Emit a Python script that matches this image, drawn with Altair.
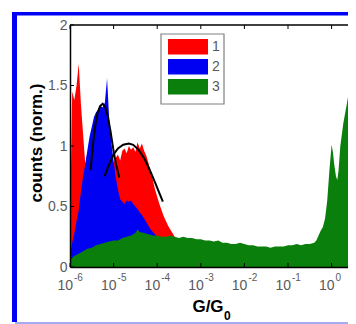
import altair as alt
import pandas as pd

# ---------------- data (x = log10(G/G0)) ----------------
x1 = [-6.00, -5.95, -5.90, -5.85, -5.80, -5.75, -5.70, -5.65, -5.60, -5.55,
      -5.50, -5.45, -5.40, -5.35, -5.30, -5.25, -5.20, -5.15, -5.10, -5.05,
      -5.00, -4.95, -4.90, -4.85, -4.80, -4.75, -4.70, -4.65, -4.60, -4.55,
      -4.50, -4.45, -4.40, -4.35, -4.30, -4.25, -4.20, -4.15, -4.10, -4.05,
      -4.00, -3.95, -3.90, -3.85, -3.80, -3.75, -3.70, -3.65, -3.60, -3.55,
      -3.50, -3.45]
y1 = [0.30, 1.45, 1.38, 1.50, 1.68, 1.35, 1.10, 0.85, 0.95, 0.80,
      1.00, 0.92, 0.90, 0.95, 0.90, 0.85, 0.80, 0.78, 0.80, 0.82,
      0.86, 0.90, 0.93, 0.88, 0.96, 0.98, 0.94, 1.00, 0.97, 0.99,
      0.95, 1.03, 0.98, 1.02, 0.96, 0.92, 0.86, 0.78, 0.72, 0.64,
      0.58, 0.52, 0.47, 0.42, 0.38, 0.34, 0.31, 0.28, 0.25, 0.22,
      0.20, 0.0]

x2 = [-6.00, -5.95, -5.90, -5.85, -5.80, -5.75, -5.70, -5.65, -5.60, -5.55,
      -5.50, -5.45, -5.40, -5.35, -5.30, -5.25, -5.20, -5.15, -5.10, -5.05,
      -5.00, -4.95, -4.90, -4.85, -4.80, -4.75, -4.70, -4.65, -4.60, -4.55,
      -4.50, -4.45, -4.40, -4.35, -4.30, -4.25, -4.20, -4.15, -4.10, -4.05,
      -4.00, -3.95, -3.90]
y2 = [0.10, 0.20, 0.28, 0.38, 0.47, 0.62, 0.75, 0.85, 0.97, 1.08,
      1.16, 1.24, 1.28, 1.30, 1.33, 1.32, 1.36, 1.56, 1.22, 1.02,
      0.88, 0.74, 0.64, 0.56, 0.54, 0.52, 0.55, 0.54, 0.55, 0.52,
      0.50, 0.48, 0.45, 0.43, 0.40, 0.37, 0.34, 0.31, 0.29, 0.27,
      0.25, 0.23, 0.0]

x3 = [-6.0, -5.9, -5.8, -5.7, -5.6, -5.5, -5.4, -5.3, -5.2, -5.1,
      -5.0, -4.9, -4.8, -4.7, -4.6, -4.5, -4.45, -4.4, -4.3, -4.2,
      -4.1, -4.0, -3.9, -3.8, -3.7, -3.6, -3.5, -3.4, -3.3, -3.2,
      -3.1, -3.0, -2.9, -2.8, -2.7, -2.6, -2.5, -2.4, -2.3, -2.2,
      -2.1, -2.0, -1.9, -1.8, -1.7, -1.6, -1.5, -1.4, -1.3, -1.2,
      -1.1, -1.0, -0.9, -0.8, -0.7, -0.6, -0.5, -0.4, -0.35, -0.3,
      -0.25, -0.2, -0.15, -0.1, -0.05, 0.0, 0.03, 0.06, 0.1, 0.13,
      0.16, 0.2, 0.27, 0.35, 0.43, 0.5, 0.575]
y3 = [0.06, 0.09, 0.11, 0.13, 0.15, 0.16, 0.18, 0.19, 0.20, 0.21,
      0.22, 0.22, 0.24, 0.25, 0.26, 0.28, 0.31, 0.29, 0.28, 0.27,
      0.26, 0.26, 0.25, 0.25, 0.26, 0.25, 0.24, 0.25, 0.24, 0.24,
      0.23, 0.23, 0.22, 0.22, 0.21, 0.22, 0.20, 0.20, 0.19, 0.19,
      0.20, 0.19, 0.18, 0.18, 0.17, 0.17, 0.17, 0.16, 0.17, 0.17,
      0.17, 0.18, 0.18, 0.19, 0.18, 0.19, 0.19, 0.20, 0.22, 0.26,
      0.30, 0.33, 0.40, 0.55, 0.80, 1.01, 0.95, 0.85, 0.75, 0.72,
      0.80, 1.00, 1.19, 1.35, 1.52, 1.70, 1.90]

fit1_x = [-5.53, -5.47, -5.42, -5.37, -5.31, -5.25, -5.19, -5.13, -5.07, -5.01, -4.95, -4.87]
fit1_y = [0.80, 1.02, 1.17, 1.27, 1.33, 1.35, 1.32, 1.24, 1.12, 0.98, 0.86, 0.74]
fit2_x = [-5.21, -5.10, -5.00, -4.90, -4.78, -4.65, -4.55, -4.43, -4.30, -4.18, -4.05, -3.95, -3.87]
fit2_y = [0.75, 0.85, 0.93, 0.98, 1.01, 1.02, 1.01, 0.97, 0.90, 0.81, 0.70, 0.61, 0.54]

tick_exponents = [-6, -5, -4, -3, -2, -1, 0]
y_ticks = [0, 0.5, 1, 1.5, 2]
categories = ["1", "2", "3"]
colors = ["#ff0000", "#0000f2", "#0b7f0b"]

# ---------------- layout ----------------
W, H = 278, 242
X_MAX = -6 + W / 43.6
FONT = "Liberation Sans"
GRAY = "#5a5a5a"

xs = alt.Scale(domain=[-6, X_MAX], nice=False, zero=False)
ys = alt.Scale(domain=[0, 2], nice=False, zero=False)
x_axis = alt.Axis(labels=False, ticks=False, grid=False, title=None, domain=True,
                  domainColor="black", domainWidth=1.5, zindex=1)
y_axis = alt.Axis(values=y_ticks, format="~g", ticks=False, grid=False, title=None,
                  domain=True, domainColor="black", domainWidth=1.5, labelFont=FONT,
                  labelFontSize=14, labelColor=GRAY, labelPadding=3, zindex=1)
X = lambda f="x": alt.X(f"{f}:Q", scale=xs, axis=x_axis)
Y = lambda f="y": alt.Y(f"{f}:Q", scale=ys, axis=y_axis)

one = pd.DataFrame({"a": [0]})

def area(xv, yv, color):
    return alt.Chart(pd.DataFrame({"x": xv, "y": yv})).mark_area(
        color=color, opacity=1, clip=True, interpolate="linear").encode(x=X(), y=Y())

def line(xv, yv):
    return alt.Chart(pd.DataFrame({"x": xv, "y": yv})).mark_line(
        color="black", strokeWidth=2, clip=True).encode(x=X(), y=Y())

layers = [
    area(x1, y1, colors[0]),
    area(x2, y2, colors[1]),
    area(x3, y3, colors[2]),
    line(fit1_x, fit1_y),
    line(fit2_x, fit2_y),
]

# top box line
layers.append(alt.Chart(one).mark_rule(color="black", strokeWidth=1.5).encode(
    x=alt.value(0), x2=alt.value(W), y=alt.value(0)))

tick_df = pd.DataFrame({"x": tick_exponents, "e": [str(e) for e in tick_exponents]})
# inward ticks bottom / top
layers.append(alt.Chart(tick_df).mark_rule(color="black", strokeWidth=1).encode(
    x=X(), y=alt.value(H), y2=alt.value(H - 4)))
layers.append(alt.Chart(tick_df).mark_rule(color="black", strokeWidth=1).encode(
    x=X(), y=alt.value(0), y2=alt.value(4)))
# inward y ticks
layers.append(alt.Chart(pd.DataFrame({"y": y_ticks})).mark_rule(color="black", strokeWidth=1).encode(
    y=Y(), x=alt.value(0), x2=alt.value(4)))

# x tick labels: "10" with superscript exponent
layers.append(alt.Chart(tick_df).mark_text(
    align="right", baseline="alphabetic", dx=3, font=FONT, fontSize=14, color=GRAY).encode(
    x=X(), y=alt.value(265), text=alt.value("10")))
layers.append(alt.Chart(tick_df).mark_text(
    align="left", baseline="alphabetic", dx=4, font=FONT, fontSize=10, color=GRAY).encode(
    x=X(), y=alt.value(256), text="e:N"))

# axis titles
layers.append(alt.Chart(one).mark_text(
    angle=270, align="center", baseline="middle", font=FONT, fontSize=17,
    fontWeight="bold", color="black").encode(
    x=alt.value(-33), y=alt.value(118), text=alt.value("counts (norm.)")))
layers.append(alt.Chart(one).mark_text(
    align="center", baseline="alphabetic", font=FONT, fontSize=17,
    fontWeight="bold", color="black").encode(
    x=alt.value(138), y=alt.value(287), text=alt.value("G/G")))
layers.append(alt.Chart(one).mark_text(
    align="left", baseline="alphabetic", font=FONT, fontSize=12,
    fontWeight="bold", color="black").encode(
    x=alt.value(154), y=alt.value(295), text=alt.value("0")))

# legend
layers.append(alt.Chart(one).mark_rect(fill="white", stroke="#808080", strokeWidth=1.2).encode(
    x=alt.value(91), x2=alt.value(154), y=alt.value(9), y2=alt.value(79)))
for i, (cat, col) in enumerate(zip(categories, colors)):
    top = 14 + 20 * i
    layers.append(alt.Chart(one).mark_rect(fill=col).encode(
        x=alt.value(98), x2=alt.value(138), y=alt.value(top), y2=alt.value(top + 15.5)))
    layers.append(alt.Chart(one).mark_text(
        align="left", baseline="middle", font=FONT, fontSize=14, color=GRAY).encode(
        x=alt.value(142), y=alt.value(top + 8), text=alt.value(cat)))

# blue frame around the figure
layers.append(alt.Chart(one).mark_rect(fill="#0000f5").encode(
    x=alt.value(-58), x2=alt.value(-53), y=alt.value(-13), y2=alt.value(297)))
layers.append(alt.Chart(one).mark_rect(fill="#0000f5").encode(
    x=alt.value(-58), x2=alt.value(W + 4), y=alt.value(-13), y2=alt.value(-9.5)))
layers.append(alt.Chart(one).mark_rect(fill="#a7acf2").encode(
    x=alt.value(-55), x2=alt.value(W + 4), y=alt.value(297), y2=alt.value(299)))

chart = alt.layer(*layers).properties(
    width=W, height=H,
    autosize=alt.AutoSizeParams(type="none"),
    padding={"left": 62, "top": 17, "right": 0, "bottom": 57},
    background="white",
).configure_view(stroke=None)

chart.save("out.html", embed_options={"renderer": "svg", "actions": False})
